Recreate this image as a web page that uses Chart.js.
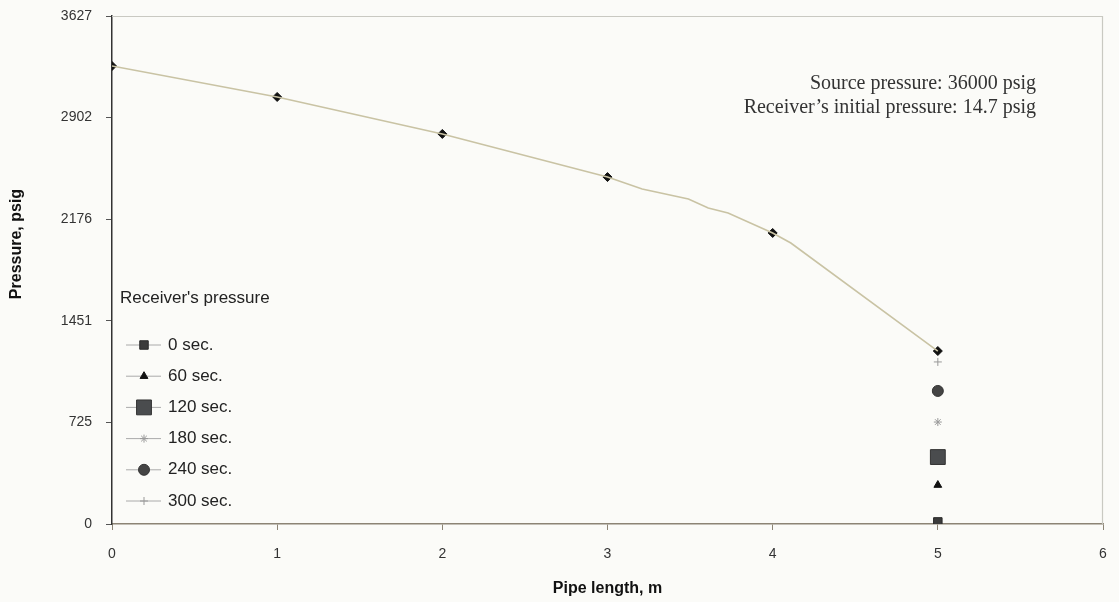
<!DOCTYPE html>
<html>
<head>
<meta charset="utf-8">
<script src="https://cdn.jsdelivr.net/npm/chart.js@4/dist/chart.umd.min.js"></script>
<style>
  html, body { margin: 0; padding: 0; background: #fbfbf8; }
  #wrap { width: 1119px; height: 602px; position: relative; }
</style>
</head>
<body>
<div id="wrap"><canvas id="chart"></canvas></div>
<script>
// pressure profile along the pipe (markers)
const pipeX = [0, 1, 2, 3, 4, 5];
const pipeP = [3270, 3049, 2785, 2477, 2078, 1235];

// the thin curve drawn through the profile
const curveX = [0, 1, 2, 3, 3.21, 3.49, 3.61, 3.73, 4, 4.11, 5];
const curveP = [3270, 3049, 2785, 2477, 2392, 2320, 2256, 2220, 2078, 2006, 1235];

// receiver pressure at the pipe end
const receiverLabels = ['0 sec.', '60 sec.', '120 sec.', '180 sec.', '240 sec.', '300 sec.'];
const receiverX = 5;
const receiverP = [15, 278, 478, 728, 950, 1157];

const yTicks = [0, 725.4, 1450.8, 2176.2, 2901.6, 3627];
const xTicks = [0, 1, 2, 3, 4, 5, 6];

const notes = ['Source pressure: 36000 psig', 'Receiver\u2019s initial pressure: 14.7 psig'];
const yTitle = 'Pressure, psig';

const markerStyles = [
  { pointStyle: 'rect', radius: 6, bg: '#3b3b3b', border: '#2a2a2a' },
  { pointStyle: 'triangle', radius: 4.5, bg: '#111', border: '#111' },
  { pointStyle: 'rect', radius: 10.5, bg: '#4a4c4e', border: '#333' },
  { pointStyle: 'star', radius: 4, bg: '#aaa', border: '#999' },
  { pointStyle: 'circle', radius: 5.5, bg: '#444', border: '#333' },
  { pointStyle: 'cross', radius: 4, bg: '#999', border: '#999' }
];

const receiverSets = receiverLabels.map((lab, i) => ({
  label: lab,
  data: [{ x: receiverX, y: receiverP[i] }],
  showLine: false,
  pointStyle: markerStyles[i].pointStyle,
  pointRadius: markerStyles[i].radius,
  pointBackgroundColor: markerStyles[i].bg,
  pointBorderColor: markerStyles[i].border,
  pointBorderWidth: 1,
  borderColor: '#999',
  inLegend: true
}));

const sans = '"Liberation Sans", Arial, sans-serif';

const extras = {
  id: 'extras',
  beforeDatasetsDraw(chart) {
    const { ctx, chartArea: a } = chart;
    ctx.save();
    ctx.strokeStyle = '#c9c9c2';
    ctx.lineWidth = 1.2;
    ctx.beginPath();
    ctx.moveTo(a.left, a.top + 0.5);
    ctx.lineTo(a.right - 0.5, a.top + 0.5);
    ctx.lineTo(a.right - 0.5, a.bottom);
    ctx.stroke();
    ctx.restore();
  },
  afterDraw(chart) {
    const { ctx } = chart;
    ctx.save();
    // notes
    ctx.fillStyle = '#333';
    ctx.font = '20px "Liberation Serif", "Times New Roman", serif';
    ctx.textAlign = 'right';
    ctx.textBaseline = 'middle';
    ctx.fillText(notes[0], 1036, 84);
    ctx.fillText(notes[1], 1036, 108);

    // y axis title
    ctx.save();
    ctx.translate(17, 244);
    ctx.rotate(-Math.PI / 2);
    ctx.textAlign = 'center';
    ctx.fillStyle = '#111';
    ctx.font = 'bold 16px ' + sans;
    ctx.fillText(yTitle, 0, 0);
    ctx.restore();

    // legend
    ctx.textAlign = 'left';
    ctx.font = '17px ' + sans;
    ctx.fillStyle = '#222';
    ctx.fillText("Receiver's pressure", 120, 298);
    const sets = chart.data.datasets.filter(d => d.inLegend);
    sets.forEach((d, i) => {
      const y = 345 + i * 31.2;
      ctx.strokeStyle = '#aaa';
      ctx.lineWidth = 1;
      ctx.beginPath();
      ctx.moveTo(126, y);
      ctx.lineTo(161, y);
      ctx.stroke();
      ctx.fillStyle = d.pointBackgroundColor;
      ctx.strokeStyle = d.pointBorderColor;
      Chart.helpers.drawPoint(ctx, {
        pointStyle: d.pointStyle,
        radius: d.pointRadius,
        borderWidth: 1,
        rotation: 0
      }, 144, y);
      ctx.fillStyle = '#222';
      ctx.fillText(d.label, 168, y);
    });
    ctx.restore();
  }
};

new Chart(document.getElementById('chart'), {
  type: 'scatter',
  data: {
    datasets: [
      {
        label: 'curve',
        data: curveX.map((x, i) => ({ x, y: curveP[i] })),
        showLine: true,
        borderColor: '#c9c3a4',
        borderWidth: 1.6,
        pointRadius: 0,
        tension: 0
      },
      {
        label: 'profile',
        data: pipeX.map((x, i) => ({ x, y: pipeP[i] })),
        showLine: false,
        pointStyle: 'rectRot',
        pointRadius: 4.5,
        pointBackgroundColor: '#111',
        pointBorderColor: '#111'
      },
      ...receiverSets
    ]
  },
  options: {
    responsive: true,
    maintainAspectRatio: false,
    animation: false,
    layout: { padding: { top: 16, right: 16, left: 0, bottom: 0 } },
    plugins: {
      legend: { display: false },
      tooltip: { enabled: false }
    },
    scales: {
      x: {
        type: 'linear',
        min: 0,
        max: 6,
        afterBuildTicks: (s) => { s.ticks = xTicks.map(v => ({ value: v })); },
        afterFit: (s) => { s.height = 78; s.paddingLeft = 0; s.paddingRight = 0; },
        grid: { drawOnChartArea: false, drawTicks: true, tickLength: 6, color: '#8c8475' },
        border: { display: true, color: '#8c8475', width: 1.5 },
        ticks: {
          padding: 16,
          color: '#333',
          font: { family: sans, size: 14 }
        },
        title: {
          display: true,
          text: 'Pipe length, m',
          color: '#111',
          padding: { top: 0, bottom: 4 },
          font: { family: sans, size: 16, weight: 'bold' }
        }
      },
      y: {
        type: 'linear',
        min: 0,
        max: 3627,
        afterBuildTicks: (s) => { s.ticks = yTicks.map(v => ({ value: v })); },
        afterFit: (s) => { s.width = 112; s.paddingTop = 0; s.paddingBottom = 0; },
        grid: { drawOnChartArea: false, drawTicks: true, tickLength: 6, color: '#555' },
        border: { display: true, color: '#333', width: 1.5 },
        ticks: {
          padding: 14,
          color: '#333',
          callback: (v) => Math.round(v),
          font: { family: sans, size: 14 }
        }
      }
    }
  },
  plugins: [extras]
});
</script>
</body>
</html>
